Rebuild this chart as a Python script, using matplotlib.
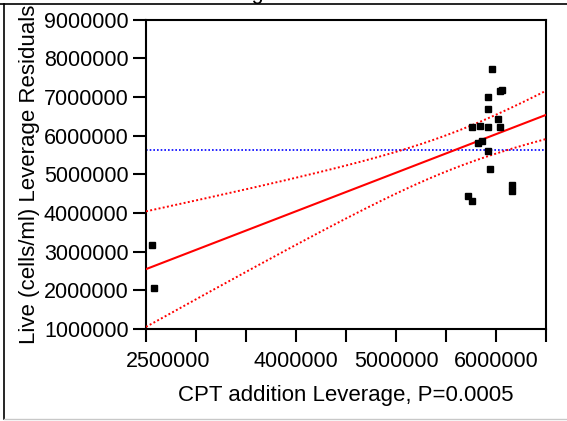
import numpy as np
import matplotlib
matplotlib.use("Agg")
import matplotlib.pyplot as plt
from matplotlib.lines import Line2D
from matplotlib.transforms import ScaledTranslation

plt.rcParams["font.family"] = ["Liberation Sans", "DejaVu Sans"]

# Leverage values (x) and leverage residuals (y)
cpt_leverage = [5957000, 6057000, 6037000, 5917000, 5917000, 6017000, 5757000,
                5837000, 5917000, 6037000, 5817000, 5857000, 5917000, 5937000,
                6157000, 6157000, 5717000, 5757000, 2557000, 2577000]
live_residuals = [7710000, 7190000, 7140000, 6990000, 6680000, 6420000, 6210000,
                  6260000, 6210000, 6210000, 5800000, 5850000, 5590000, 5130000,
                  4710000, 4560000, 4450000, 4300000, 3170000, 2070000]

x_ticks = [2500000, 3000000, 3500000, 4000000, 4500000, 5000000, 5500000,
           6000000, 6500000]
x_tick_labels = ["2500000", "", "", "4000000", "", "5000000", "", "6000000", ""]
y_ticks = [1000000, 2000000, 3000000, 4000000, 5000000, 6000000, 7000000,
           8000000, 9000000]
y_tick_labels = [str(v) for v in y_ticks]

x_label = "CPT addition Leverage, P=0.0005"
y_label = "Live (cells/ml) Leverage Residuals"
t_crit = 2.101  # 95% two-sided, 18 df

x = np.asarray(cpt_leverage, dtype=float)
y = np.asarray(live_residuals, dtype=float)
n = len(x)

slope, intercept = np.polyfit(x, y, 1)
resid = y - (slope * x + intercept)
s = np.sqrt(np.sum(resid ** 2) / (n - 2))
xbar = x.mean()
sxx = np.sum((x - xbar) ** 2)

xs = np.linspace(x_ticks[0], x_ticks[-1], 300)
fit = slope * xs + intercept
half = t_crit * s * np.sqrt(1.0 / n + (xs - xbar) ** 2 / sxx)

fig = plt.figure(figsize=(5.67, 4.21), dpi=100)
ax = fig.add_axes([146 / 567, 1 - 329 / 421, 400 / 567, 309.5 / 421])

ax.axhline(y.mean(), color="#0000ff", lw=1.2, ls=(0, (1, 1.2)), zorder=2)
ax.plot(xs, fit, color="#ff0000", lw=1.5, zorder=3)
ax.plot(xs, fit + half, color="#ff0000", lw=1.4, ls=(0, (1, 1.2)), zorder=3)
ax.plot(xs, fit - half, color="#ff0000", lw=1.4, ls=(0, (1, 1.2)), zorder=3)
ax.plot(x, y, ls="none", marker="s", ms=4, color="black", zorder=4)

ax.set_xlim(x_ticks[0], x_ticks[-1])
ax.set_ylim(y_ticks[0], y_ticks[-1])
ax.set_xticks(x_ticks)
ax.set_xticklabels(x_tick_labels)
ax.set_yticks(y_ticks)
ax.set_yticklabels(y_tick_labels)

for side in ax.spines.values():
    side.set_linewidth(1.5)
ax.tick_params(axis="both", length=9.5, width=1.5, labelsize=15.5, colors="black")
ax.tick_params(axis="x", pad=6)
ax.tick_params(axis="y", pad=3)

# first x label sits to the right of its tick
first = ax.get_xticklabels()[0]
first.set_transform(first.get_transform() + ScaledTranslation(0.22, 0, fig.dpi_scale_trans))

ax.set_xlabel(x_label, fontsize=16, labelpad=10)
ax.set_ylabel(y_label, fontsize=16, labelpad=3)

# title, mostly above the top edge
fig.text(186 / 567, 1 + 1.5 / 421, "Leverage Plot", fontsize=15.5,
         ha="left", va="baseline")

# outer frame
fig.add_artist(Line2D([0, 1], [1 - 4 / 421] * 2, transform=fig.transFigure,
                      color="black", lw=1.2))
fig.add_artist(Line2D([4 / 567] * 2, [2 / 421, 1 - 4 / 421], transform=fig.transFigure,
                      color="black", lw=1.2))
fig.add_artist(Line2D([4 / 567, 1], [2 / 421] * 2, transform=fig.transFigure,
                      color="#c8c8c8", lw=1.0))

fig.savefig("out.png", dpi=100)
